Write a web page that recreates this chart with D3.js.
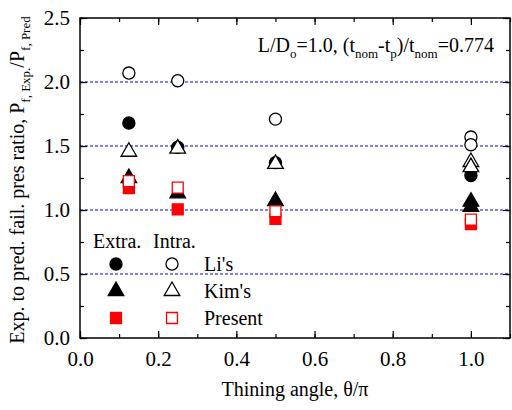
<!DOCTYPE html>
<html><head><meta charset="utf-8">
<script src="https://cdn.jsdelivr.net/npm/d3@7"></script>
</head><body style="margin:0;background:#fff">
<svg id="c" width="512" height="410"></svg>
<script>
const xVals = [0.125, 0.25, 0.5, 1.0, 1.0];
const liExtra = [1.68, 1.49, 1.37, 1.27, null];
const liIntra = [2.07, 2.01, 1.71, 1.57, 1.51];
const kimExtra = [1.25, 1.13, 1.07, 1.065, 1.025];
const kimIntra = [1.455, 1.48, 1.36, 1.375, 1.335];
const presExtra = [1.17, 1.005, 0.93, 0.89, null];
const presIntra = [1.225, 1.175, 0.99, 0.925, null];
const yTicks = [0.0, 0.5, 1.0, 1.5, 2.0, 2.5];
const xTicks = [0.0, 0.2, 0.4, 0.6, 0.8, 1.0];
const gridVals = [0.5, 1.0, 1.5, 2.0];

const FONT = "Liberation Serif";
const svg = d3.select("#c");
const L = 80, R = 510, T = 18, B = 338;
const x = d3.scaleLinear().domain([0, 1.1]).range([L, R]);
const y = d3.scaleLinear().domain([0, 2.5]).range([B, T]);

// grid
svg.append("g").selectAll("line").data(gridVals).join("line")
  .attr("x1", L).attr("x2", R).attr("y1", d => y(d)).attr("y2", d => y(d))
  .attr("stroke", "#0000ff").attr("stroke-width", 1).attr("stroke-dasharray", "3,2");

// axes
function ax(gen, tr) {
  const g = svg.append("g").attr("transform", tr).call(gen);
  g.select(".domain").remove();
  g.selectAll("line").attr("stroke", "#000").attr("stroke-width", 1.2);
  g.selectAll("text").style("font-family", FONT).style("font-size", "21px").attr("fill", "#000");
  return g;
}
const xMinor = d3.range(0, 1.101, 0.1).map(v => +v.toFixed(2));
const yMinor = d3.range(0, 2.501, 0.25).map(v => +v.toFixed(2));
ax(d3.axisBottom(x).tickValues(xMinor).tickSize(-4).tickFormat(""), `translate(0,${B})`);
ax(d3.axisBottom(x).tickValues(xTicks).tickSize(-7).tickPadding(13).tickFormat(d3.format(".1f")), `translate(0,${B})`);
ax(d3.axisTop(x).tickValues(xMinor).tickSize(-4).tickFormat(""), `translate(0,${T})`);
ax(d3.axisTop(x).tickValues(xTicks).tickSize(-7).tickFormat(""), `translate(0,${T})`);
ax(d3.axisLeft(y).tickValues(yMinor).tickSize(-4).tickFormat(""), `translate(${L},0)`);
ax(d3.axisLeft(y).tickValues(yTicks).tickSize(-7).tickPadding(10).tickFormat(d3.format(".1f")), `translate(${L},0)`);
ax(d3.axisRight(y).tickValues(yMinor).tickSize(-4).tickFormat(""), `translate(${R},0)`);
ax(d3.axisRight(y).tickValues(yTicks).tickSize(-7).tickFormat(""), `translate(${R},0)`);
svg.append("rect").attr("x", L).attr("y", T).attr("width", R - L).attr("height", B - T)
  .attr("fill", "none").attr("stroke", "#000").attr("stroke-width", 1.5);

// markers
const sym = {
  circle: d3.symbol().type(d3.symbolCircle).size(115),
  triangle: d3.symbol().type(d3.symbolTriangle).size(105),
  square: d3.symbol().type(d3.symbolSquare).size(120)
};
function series(vals, shape, fill, stroke) {
  const pts = xVals.map((xv, i) => ({x: xv, y: vals[i]})).filter(d => d.y != null);
  svg.append("g").selectAll("path").data(pts).join("path")
    .attr("d", sym[shape]())
    .attr("transform", d => `translate(${x(d.x)},${y(d.y)})`)
    .attr("fill", fill).attr("stroke", stroke).attr("stroke-width", 1.3);
}
series(presExtra, "square", "#ff0000", "#ff0000");
series(kimExtra, "triangle", "#000", "#000");
series(presIntra, "square", "#fff", "#ff0000");
series(liExtra, "circle", "#000", "#000");
series(kimIntra, "triangle", "#fff", "#000");
series(liIntra, "circle", "#fff", "#000");

function txt(xp, yp, size) {
  return svg.append("text").attr("x", xp).attr("y", yp)
    .style("font-family", FONT).style("font-size", size + "px").attr("fill", "#000");
}
function sub(t, s) {
  t.append("tspan").style("font-size", "13px").attr("dy", 6).text(s);
}

// annotation
const ann = txt(494, 52, 20).attr("text-anchor", "end");
ann.append("tspan").text("L/D");
sub(ann, "o");
ann.append("tspan").attr("dy", -6).text("=1.0, (t");
sub(ann, "nom");
ann.append("tspan").attr("dy", -6).text("-t");
sub(ann, "p");
ann.append("tspan").attr("dy", -6).text(")/t");
sub(ann, "nom");
ann.append("tspan").attr("dy", -6).text("=0.774");

// legend
txt(93, 248, 20).text("Extra.");
txt(153, 248, 20).text("Intra.");
const legRows = [
  {label: "Li's", shape: "circle", fillE: "#000", strokeE: "#000", strokeI: "#000"},
  {label: "Kim's", shape: "triangle", fillE: "#000", strokeE: "#000", strokeI: "#000"},
  {label: "Present", shape: "square", fillE: "#ff0000", strokeE: "#ff0000", strokeI: "#ff0000"}
];
legRows.forEach((r, i) => {
  const yy = 264 + i * 27;
  svg.append("path").attr("d", sym[r.shape]()).attr("transform", `translate(116,${yy})`)
    .attr("fill", r.fillE).attr("stroke", r.strokeE).attr("stroke-width", 1.3);
  svg.append("path").attr("d", sym[r.shape]()).attr("transform", `translate(172,${yy})`)
    .attr("fill", "#fff").attr("stroke", r.strokeI).attr("stroke-width", 1.3);
  txt(204, yy + 7, 20).text(r.label);
});

// axis titles
txt((L + R) / 2, 396, 20).attr("text-anchor", "middle").text("Thining angle, θ/π");
const yt = txt(0, 0, 20).attr("transform", `translate(24,${(T + B) / 2 + 2}) rotate(-90)`)
  .attr("text-anchor", "middle");
yt.append("tspan").text("Exp. to pred. fail. pres ratio, P");
sub(yt, "f, Exp.");
yt.append("tspan").attr("dy", -6).text("/P");
sub(yt, "f, Pred");
</script>
</body></html>
